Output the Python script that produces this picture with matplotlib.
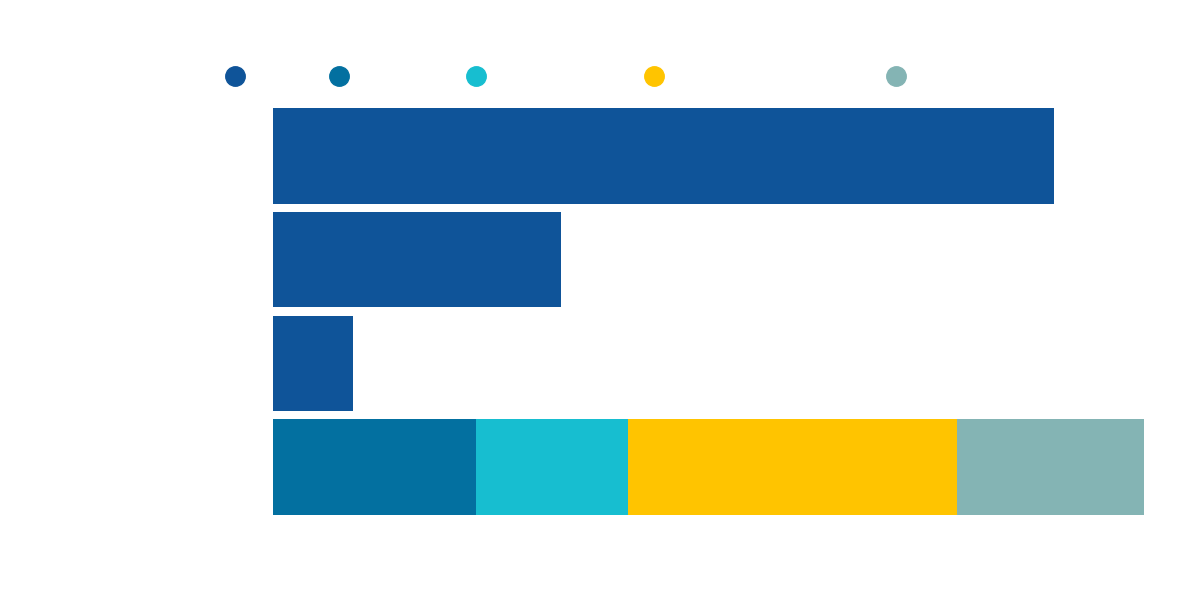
import numpy as np
import matplotlib.pyplot as plt

# Categories and values (text is white in reference)
categories = ["Financials", "Taxes", "Investment Bank/Broker Dealer", "Service Providers"]
total = [17.5, 6.45, 1.8, 0]
tax_firm = [0, 0, 0, 4.55]
entity_advisory = [0, 0, 0, 3.42]
other_firms = [0, 0, 0, 7.36]
other = [0, 0, 0, 4.2]

series = [
    ("Total", total, "#0f5499"),
    ("Tax Firm", tax_firm, "#0370a0"),
    ("Entity Advisory", entity_advisory, "#17bed0"),
    ("Other Accounting Firms", other_firms, "#ffc400"),
    ("Other", other, "#84b4b4"),
]

fig = plt.figure(figsize=(12, 6), dpi=100)
ax = fig.add_axes([0.2275, 0.135, 0.7434, 0.6917])
y = np.arange(len(categories))
left = np.zeros(len(categories))
for name, vals, col in series:
    vals = np.array(vals)
    ax.barh(y, vals, left=left, height=0.92, color=col, label=name)
    left += vals

ax.set_ylim(3.5, -0.5)
ax.set_xlim(0, 20)
ax.set_yticks(y)
ax.set_yticklabels(categories, color="white", fontsize=11)
ax.set_xticks([0, 5, 10, 15, 20])
ax.tick_params(axis="x", colors="white", labelsize=11, length=0)
ax.tick_params(axis="y", length=0, pad=25)
for s in ax.spines.values():
    s.set_visible(False)

# legend: circle markers with labels beside them
legend_x = [235, 339, 476, 654, 896]
ly = 1 - 76 / 600
for (name, vals, col), px in zip(series, legend_x):
    fig.add_artist(plt.Line2D([px / 1200], [ly], marker="o", markersize=14,
                              color=col, transform=fig.transFigure))
    fig.text((px + 20) / 1200, ly, name, color="white", fontsize=12, va="center")

fig.savefig("out.png")
